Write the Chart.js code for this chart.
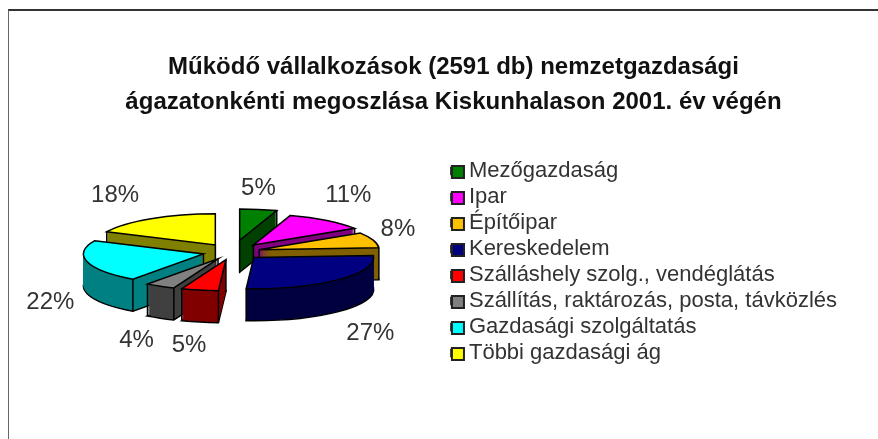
<!DOCTYPE html>
<html>
<head>
<meta charset="utf-8">
<style>
  html, body { margin: 0; background: #fff; }
  #wrap { position: relative; width: 878px; height: 439px; overflow: hidden; }
  #frame { position: absolute; left: 8px; top: 9px; right: -4px; bottom: -4px; border-top: 2px solid #333; border-left: 1px solid #666; }
  canvas { position: absolute; left: 0; top: 0; filter: blur(0.7px); }
</style>
<script src="https://cdn.jsdelivr.net/npm/chart.js@4"></script>
</head>
<body>
<div id="wrap">
  <canvas id="myChart" width="878" height="439"></canvas>
  <div id="frame"></div>
</div>
<script>
const categories = ['Mezőgazdaság', 'Ipar', 'Építőipar', 'Kereskedelem', 'Szálláshely szolg., vendéglátás',
  'Szállítás, raktározás, posta, távközlés', 'Gazdasági szolgáltatás', 'Többi gazdasági ág'];
const shares = [5, 11, 8, 27, 5, 4, 22, 18];
const topColors = ['#008000', '#ff00ff', '#ffc000', '#000080', '#ff0000', '#808080', '#00ffff', '#ffff00'];
const sideColors = ['#004000', '#800080', '#806000', '#000040', '#800000', '#404040', '#008080', '#808000'];
const titleLines = ['Működő vállalkozások (2591 db) nemzetgazdasági', 'ágazatonkénti megoszlása Kiskunhalason 2001. év végén'];

// how far each slice is pulled out of the pie, and where its % label sits
const pullOuts = [46, 34, 28, 30, 30, 30, 30, 32];
const labelGapX = [0, 35, 26, 45, 49, 49, 38, 67];
const labelGapY = [21, 25, 11, 22, 23, 22, 9, 23];

const tilt = 0.26;
const depth = 32;
const pieRadius = 120;
const swatchSize = 14;

function drawSlice(ctx, arc, pull, dy, fill, line) {
  const mid = (arc.startAngle + arc.endAngle) / 2;
  const saved = arc.options;
  arc.options = {
    backgroundColor: fill, borderColor: line || fill, borderWidth: line ? 1.5 : 0,
    borderAlign: 'center', borderJoinStyle: 'miter', borderDash: [], borderDashOffset: 0,
    borderRadius: 0, circular: true, offset: 0, spacing: 0, selfJoin: false
  };
  ctx.save();
  ctx.translate(0, arc.y + dy);
  ctx.scale(1, tilt);
  ctx.translate(0, -arc.y);
  ctx.translate(Math.cos(mid) * pull, Math.sin(mid) * pull);
  // stroke in screen space, so the flattened outline keeps an even width
  const stroke = ctx.stroke;
  ctx.stroke = function () {
    ctx.save();
    ctx.setTransform(1, 0, 0, 1, 0, 0);
    stroke.call(ctx);
    ctx.restore();
  };
  arc.draw(ctx);
  delete ctx.stroke;
  ctx.restore();
  arc.options = saved;
}

function cornerEdges(ctx, arc, pull) {
  const mid = (arc.startAngle + arc.endAngle) / 2;
  const tipX = arc.x + Math.cos(mid) * pull;
  const tipY = arc.y + Math.sin(mid) * pull * tilt;
  const pts = [[tipX, tipY]];
  const top = new Path2D();
  top.moveTo(tipX, tipY);
  for (let s = 0; s <= 24; s++) {
    const a = arc.startAngle + (arc.endAngle - arc.startAngle) * s / 24;
    const p = [tipX + Math.cos(a) * arc.outerRadius, tipY + Math.sin(a) * arc.outerRadius * tilt];
    top.lineTo(p[0], p[1]);
    if (s === 0 || s === 24) pts.push(p);
  }
  top.closePath();
  ctx.strokeStyle = '#000';
  ctx.lineWidth = 1.5;
  pts.forEach(p => {
    // a corner on the far side of the slice has its edge hidden behind the slice
    if (ctx.isPointInPath(top, p[0], p[1] + 2)) return;
    ctx.beginPath();
    ctx.moveTo(p[0], p[1]);
    ctx.lineTo(p[0], p[1] + depth);
    ctx.stroke();
  });
}

// the 3D look: flatten the real arc elements and stack them, back slices first
const pie3d = {
  id: 'pie3d',
  afterLayout(chart) {
    // title sits right of the canvas centre, legend lower than the auto layout puts it
    chart.titleBlock.left += 21;
    chart.titleBlock.right += 21;
    const h = chart.legend.bottom - chart.legend.top;
    chart.legend.top = 156;
    chart.legend.bottom = 156 + h;
  },
  beforeDatasetsDraw(chart) {
    const ctx = chart.ctx;
    const arcs = chart.getDatasetMeta(0).data;
    const order = arcs.map((arc, i) => i).sort((a, b) => {
      const ma = (arcs[a].startAngle + arcs[a].endAngle) / 2;
      const mb = (arcs[b].startAngle + arcs[b].endAngle) / 2;
      return Math.sin(ma) - Math.sin(mb);
    });
    order.forEach(i => {
      const arc = arcs[i];
      drawSlice(ctx, arc, pullOuts[i], depth, sideColors[i], '#000');
      for (let dy = depth - 1; dy > 0; dy--) {
        drawSlice(ctx, arc, pullOuts[i], dy, sideColors[i]);
      }
      cornerEdges(ctx, arc, pullOuts[i]);
      drawSlice(ctx, arc, pullOuts[i], 0, topColors[i], '#000');
    });

    ctx.save();
    ctx.font = '24px "Liberation Sans", Arial, sans-serif';
    ctx.fillStyle = '#333';
    ctx.textAlign = 'center';
    ctx.textBaseline = 'middle';
    arcs.forEach((arc, i) => {
      const mid = (arc.startAngle + arc.endAngle) / 2;
      const tipX = arc.x + Math.cos(mid) * pullOuts[i];
      const tipY = arc.y + Math.sin(mid) * pullOuts[i] * tilt;
      const front = Math.sin(mid) > 0;
      const x = tipX + Math.cos(mid) * (arc.outerRadius + labelGapX[i]);
      const y = tipY + Math.sin(mid) * arc.outerRadius * tilt + (front ? depth + labelGapY[i] : -labelGapY[i]);
      ctx.fillText(shares[i] + '%', x, y);
    });
    ctx.restore();
    return false;
  },
  afterDraw(chart) {
    // the legend text hugs its swatch, tighter than the library's gap allows
    const ctx = chart.ctx;
    chart.legend.legendHitBoxes.forEach((box, i) => {
      const y = box.top + (box.height - swatchSize) / 2 + 1;
      ctx.fillStyle = topColors[i];
      ctx.fillRect(box.left, y, swatchSize, swatchSize);
      ctx.strokeStyle = '#222';
      ctx.lineWidth = 2;
      ctx.strokeRect(box.left + 1, y + 1, swatchSize - 2, swatchSize - 2);
    });
  }
};

new Chart(document.getElementById('myChart').getContext('2d'), {
  type: 'pie',
  data: {
    labels: categories,
    datasets: [{
      data: shares,
      backgroundColor: topColors,
      borderColor: '#111',
      borderWidth: 1.5
    }]
  },
  options: {
    responsive: false,
    animation: false,
    radius: pieRadius,
    layout: { padding: { left: 18, right: 31, top: 50, bottom: 65 } },
    plugins: {
      tooltip: { enabled: false },
      title: {
        display: true,
        text: titleLines,
        color: '#111',
        font: { family: '"Liberation Sans", Arial, sans-serif', size: 24, weight: 'bold', lineHeight: 1.46 },
        padding: { top: 0, bottom: 10 }
      },
      legend: {
        position: 'right',
        align: 'start',
        labels: {
          color: '#333',
          boxWidth: 7,
          boxHeight: 7,
          padding: 4,
          font: { family: '"Liberation Sans", Arial, sans-serif', size: 22 }
        }
      }
    }
  },
  plugins: [pie3d]
});
</script>
</body>
</html>
